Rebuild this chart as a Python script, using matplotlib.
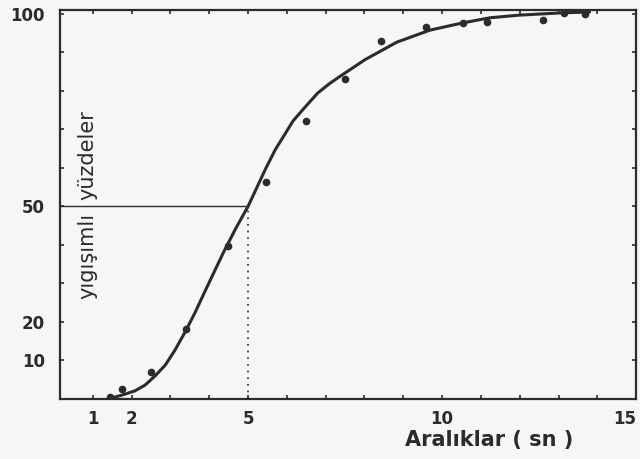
import matplotlib
matplotlib.use("Agg")
import matplotlib.pyplot as plt

# measured points (interval in s, cumulative %)
obs_x = [1.45, 1.76, 2.50, 3.40, 4.49, 5.46, 6.49, 7.50, 8.42, 9.58,
         10.54, 11.15, 12.60, 13.14, 13.68]
obs_y = [0.5, 2.6, 7.0, 18.2, 39.7, 56.4, 72.2, 83.1, 93.0, 96.6,
         97.7, 98.0, 98.4, 100.3, 100.0]

# hand-drawn fitted curve
curve_x = [1.40, 1.76, 2.09, 2.35, 2.61, 2.87, 3.12, 3.38, 3.63, 3.87,
           4.36, 4.68, 5.00, 5.20, 5.44, 5.70, 5.94, 6.16, 6.47, 6.80,
           7.10, 7.40, 7.70, 8.01, 8.84, 9.69, 10.54, 11.23, 12.00, 13.11,
           13.80]
curve_y = [0.0, 1.0, 2.1, 3.6, 6.0, 8.8, 12.7, 17.4, 22.3, 27.5,
           37.9, 44.2, 50.0, 54.3, 59.5, 64.7, 68.6, 72.2, 75.8, 79.5,
           81.9, 84.0, 86.0, 88.1, 92.7, 95.8, 97.7, 99.0, 99.7, 100.3,
           100.5]

x_ticks = [1, 2, 5, 10, 15]
y_ticks = [10, 20, 50, 100]
median_x = 5
median_y = 50

ink = "#2b2b2b"
paper = "#f6f6f4"

fig = plt.figure(figsize=(6.4, 4.59), dpi=100, facecolor=paper)
ax = fig.add_axes([0.094, 0.131, 0.900, 0.847])
ax.set_facecolor(paper)

ax.plot(curve_x, curve_y, color=ink, lw=2.2, solid_capstyle="round",
        solid_joinstyle="round")
ax.plot(obs_x, obs_y, "o", color=ink, ms=4.5)

# 50 % guide lines
ax.plot([0, median_x], [median_y, median_y], color=ink, lw=1.0)
ax.plot([median_x, median_x], [0, median_y], color=ink, lw=1.2, ls=(0, (1, 3)))

ax.set_xlim(0.16, 15)
ax.set_ylim(0, 101)

ax.set_xticks(x_ticks)
ax.set_yticks(y_ticks)
ax.set_xticks(range(1, 16), minor=True)
ax.set_yticks(range(10, 101, 10), minor=True)
ax.tick_params(which="both", direction="in", length=3, width=1.2, color=ink,
               top=True, right=True)
ax.tick_params(axis="x", which="major", pad=8, labelsize=12, labelcolor=ink)
ax.tick_params(axis="y", which="major", pad=11, labelsize=12, labelcolor=ink)
for lab in ax.get_xticklabels() + ax.get_yticklabels():
    lab.set_fontweight("bold")
ax.get_xticklabels()[-1].set_horizontalalignment("right")

for s in ax.spines.values():
    s.set_linewidth(1.6)
    s.set_color(ink)

ax.text(0.85, 48.3, "yıgışımlı", rotation=90, rotation_mode="anchor",
        ha="right", va="center", fontsize=15, color=ink)
ax.text(0.85, 51.7, "yüzdeler", rotation=90, rotation_mode="anchor",
        ha="left", va="center", fontsize=15, color=ink)

fig.text(0.765, 0.042, "Aralıklar ( sn )", ha="center", va="center",
         fontsize=15, fontweight="bold", color=ink)

fig.savefig("out.png", dpi=100, facecolor=paper)
